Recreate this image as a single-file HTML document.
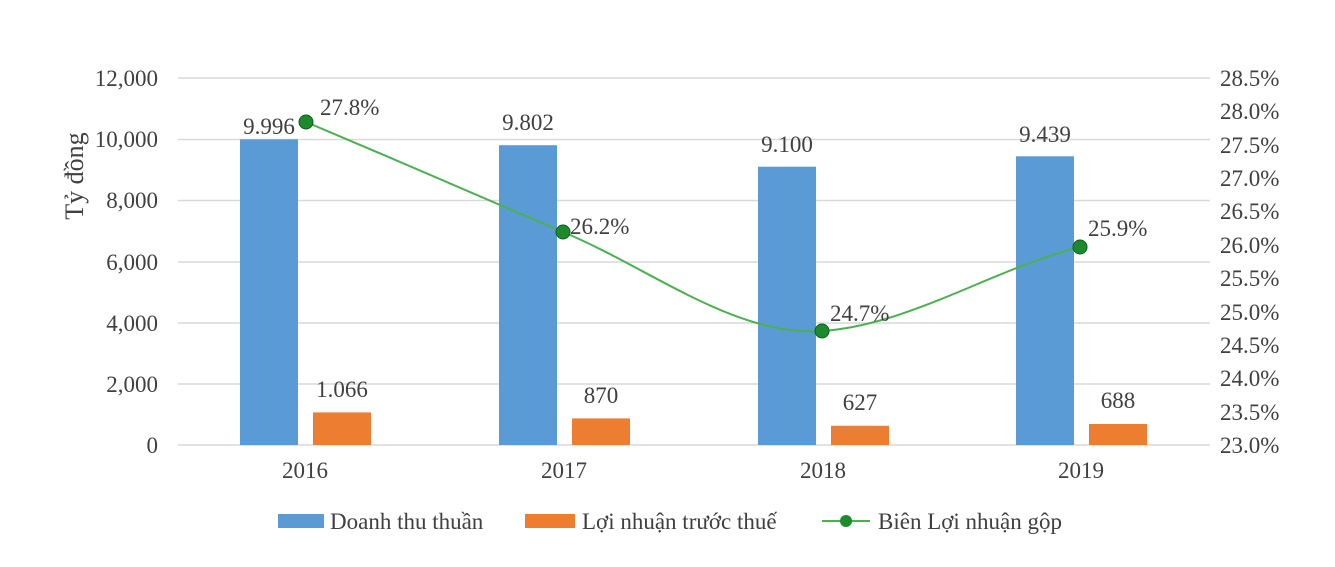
<!DOCTYPE html>
<html><head><meta charset="utf-8"><style>body{margin:0;background:#fff}</style></head><body>
<svg width="1335" height="562" xmlns="http://www.w3.org/2000/svg" font-family="Liberation Serif, serif" fill="#404040">
<g stroke="#d9d9d9" stroke-width="1.5">
<line x1="178" x2="1210" y1="78" y2="78"/><line x1="178" x2="1210" y1="139.5" y2="139.5"/>
<line x1="178" x2="1210" y1="200.5" y2="200.5"/><line x1="178" x2="1210" y1="262" y2="262"/>
<line x1="178" x2="1210" y1="323" y2="323"/><line x1="178" x2="1210" y1="384" y2="384"/>
<line x1="178" x2="1210" y1="445" y2="445"/></g>
<g font-size="23" text-anchor="end">
<text x="158" y="86">12,000</text><text x="158" y="147">10,000</text><text x="158" y="208">8,000</text>
<text x="158" y="270">6,000</text><text x="158" y="331">4,000</text><text x="158" y="392">2,000</text><text x="158" y="453">0</text></g>
<g font-size="23">
<text x="1220" y="86">28.5%</text><text x="1220" y="119">28.0%</text><text x="1220" y="153">27.5%</text>
<text x="1220" y="186">27.0%</text><text x="1220" y="219">26.5%</text><text x="1220" y="253">26.0%</text>
<text x="1220" y="286">25.5%</text><text x="1220" y="320">25.0%</text><text x="1220" y="353">24.5%</text>
<text x="1220" y="386">24.0%</text><text x="1220" y="420">23.5%</text><text x="1220" y="453">23.0%</text></g>
<text x="83" y="176" font-size="26" transform="rotate(-90 83 176)" text-anchor="middle">Tỷ đồng</text>
<g fill="#5b9bd5"><rect x="240" y="139.3" width="58" height="305.7"/><rect x="499" y="145.2" width="58" height="299.8"/>
<rect x="758" y="166.7" width="58" height="278.3"/><rect x="1016" y="156.3" width="58" height="288.7"/></g>
<g fill="#ed7d31"><rect x="313" y="412.4" width="58" height="32.6"/><rect x="572" y="418.4" width="58" height="26.6"/>
<rect x="831" y="425.8" width="58" height="19.2"/><rect x="1089" y="424" width="58" height="21"/></g>
<g font-size="23" text-anchor="middle">
<text x="269" y="134">9.996</text><text x="528" y="130">9.802</text><text x="787" y="152">9.100</text><text x="1045" y="142">9.439</text>
<text x="342" y="397">1.066</text><text x="601" y="403">870</text><text x="860" y="410">627</text><text x="1118" y="408">688</text>
<text x="305" y="478">2016</text><text x="564" y="478">2017</text><text x="823" y="478">2018</text><text x="1081" y="478">2019</text></g>
<path d="M306 122 C392 158 478 196 563 232 C650 268 735 337 822 331 C910 325 995 268 1080 247" fill="none" stroke="#4cb050" stroke-width="2"/>
<g fill="#1e8a2e" stroke="#0d5e1a"><circle cx="306" cy="122" r="7"/><circle cx="563" cy="232" r="7"/><circle cx="822" cy="331" r="7"/><circle cx="1080" cy="247" r="7"/></g>
<g font-size="23"><text x="320" y="115">27.8%</text><text x="570" y="234">26.2%</text><text x="830" y="321">24.7%</text><text x="1088" y="236">25.9%</text></g>
<rect x="278" y="514" width="46" height="14" fill="#5b9bd5"/><text x="330" y="529" font-size="23">Doanh thu thuần</text>
<rect x="525" y="514" width="50" height="14" fill="#ed7d31"/><text x="582" y="529" font-size="23">Lợi nhuận trước thuế</text>
<line x1="822" x2="870" y1="521" y2="521" stroke="#4cb050" stroke-width="2"/><circle cx="846" cy="521" r="6" fill="#1e8a2e"/>
<text x="878" y="529" font-size="23">Biên Lợi nhuận gộp</text>
</svg>
</body></html>
